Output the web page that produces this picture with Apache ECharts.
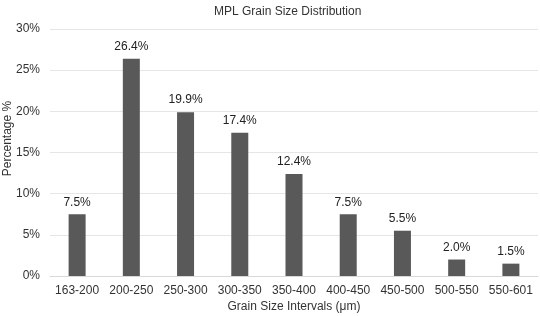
<!DOCTYPE html>
<html>
<head>
<meta charset="utf-8">
<script src="https://cdn.jsdelivr.net/npm/echarts@6/dist/echarts.min.js"></script>
<style>
  html, body { margin: 0; padding: 0; background: #fff; }
  #chart { width: 540px; height: 316px; }
</style>
</head>
<body>
<div id="chart"></div>
<script>
var intervals = ["163-200", "200-250", "250-300", "300-350", "350-400", "400-450", "450-500", "500-550", "550-601"];
var percentages = [7.5, 26.4, 19.9, 17.4, 12.4, 7.5, 5.5, 2.0, 1.5];

var myChart = echarts.init(document.getElementById("chart"));
myChart.setOption({
  animation: false,
  textStyle: { fontFamily: "Liberation Sans, Arial, sans-serif" },
  title: {
    text: "MPL Grain Size Distribution",
    left: 209,
    top: 1,
    textStyle: { fontSize: 12, fontWeight: "normal", color: "#333" }
  },
  grid: { left: 50, right: 2, top: 29, bottom: 40, containLabel: false, outerBoundsMode: "none" },
  xAxis: {
    type: "category",
    data: intervals,
    name: "Grain Size Intervals (μm)",
    nameLocation: "middle",
    nameGap: 25,
    nameMoveOverlap: false,
    nameTextStyle: { fontSize: 12, color: "#333" },
    axisTick: { show: false },
    axisLine: { lineStyle: { color: "#d9d9d9" } },
    axisLabel: { fontSize: 12, color: "#333", margin: 9, interval: 0 }
  },
  yAxis: {
    type: "value",
    min: 0,
    max: 30,
    interval: 5,
    name: "Percentage %",
    nameLocation: "middle",
    nameGap: 36,
    nameMoveOverlap: false,
    nameTextStyle: { fontSize: 12, color: "#333", padding: [0, 0, 0, 28] },
    axisLabel: { formatter: "{value}%", fontSize: 12, color: "#333", margin: 10 },
    splitLine: { lineStyle: { color: "#e6e6e6" } }
  },
  series: [{
    type: "bar",
    data: percentages,
    barWidth: 17,
    itemStyle: { color: "#595959" },
    label: {
      show: true,
      position: "top",
      distance: 6,
      fontSize: 12,
      color: "#222",
      formatter: function (p) { return p.value.toFixed(1) + "%"; }
    }
  }]
});
</script>
</body>
</html>
